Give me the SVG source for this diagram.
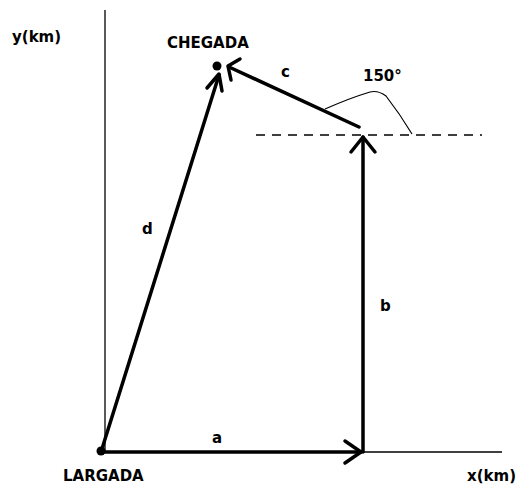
<svg xmlns="http://www.w3.org/2000/svg" width="520" height="484" viewBox="0 0 520 484">
<style>
.t{font-family:"DejaVu Sans","Verdana",sans-serif;font-weight:bold;font-size:15px;fill:#000}
.ax{stroke:#000;stroke-width:1.3;fill:none}
.v{stroke:#000;stroke-width:3.5;fill:none;stroke-linecap:round;stroke-linejoin:round}
</style>
<rect width="520" height="484" fill="#fff"/>
<g id="axes">
<line class="ax" x1="105" y1="10" x2="105" y2="452"/>
<line class="ax" x1="105" y1="452" x2="502" y2="452"/>
<line x1="256" y1="135" x2="482" y2="135" stroke="#000" stroke-width="1.3" stroke-dasharray="9,7"/>
</g>
<g id="connectors">
<g id="vec-a"><line class="v" x1="101" y1="452" x2="361" y2="452"/><polyline class="v" points="345,441 361,452 345,463"/></g>
<g id="vec-b"><line class="v" x1="363" y1="452" x2="363" y2="137"/><polyline class="v" points="351,152 363,137 375,152"/></g>
<g id="vec-c"><line class="v" x1="359" y1="127" x2="229" y2="67"/><polyline class="v" points="240,59 228,66 231,80"/></g>
<g id="vec-d"><line class="v" x1="101" y1="452" x2="219" y2="75"/><polyline class="v" points="207,88 219,74 222,91"/></g>
<path d="M325,109 Q350,98 370,92 Q378,90 386,96 Q400,114 412,134" stroke="#000" stroke-width="1.2" fill="none"/>
</g>
<g id="largada"><circle cx="101" cy="451" r="4.5" fill="#000"/><text class="t" x="63" y="481">LARGADA</text></g>
<g id="chegada"><circle cx="217" cy="66" r="4.5" fill="#000"/><text class="t" x="167" y="48">CHEGADA</text></g>
<g id="labels">
<text class="t" x="12" y="42">y(km)</text>
<text class="t" x="467" y="481" textLength="49" lengthAdjust="spacingAndGlyphs">x(km)</text>
<text class="t" x="281" y="77">c</text>
<text class="t" x="363" y="81">150°</text>
<text class="t" x="142" y="234">d</text>
<text class="t" x="380" y="311">b</text>
<text class="t" x="212" y="443">a</text>
</g>
</svg>
